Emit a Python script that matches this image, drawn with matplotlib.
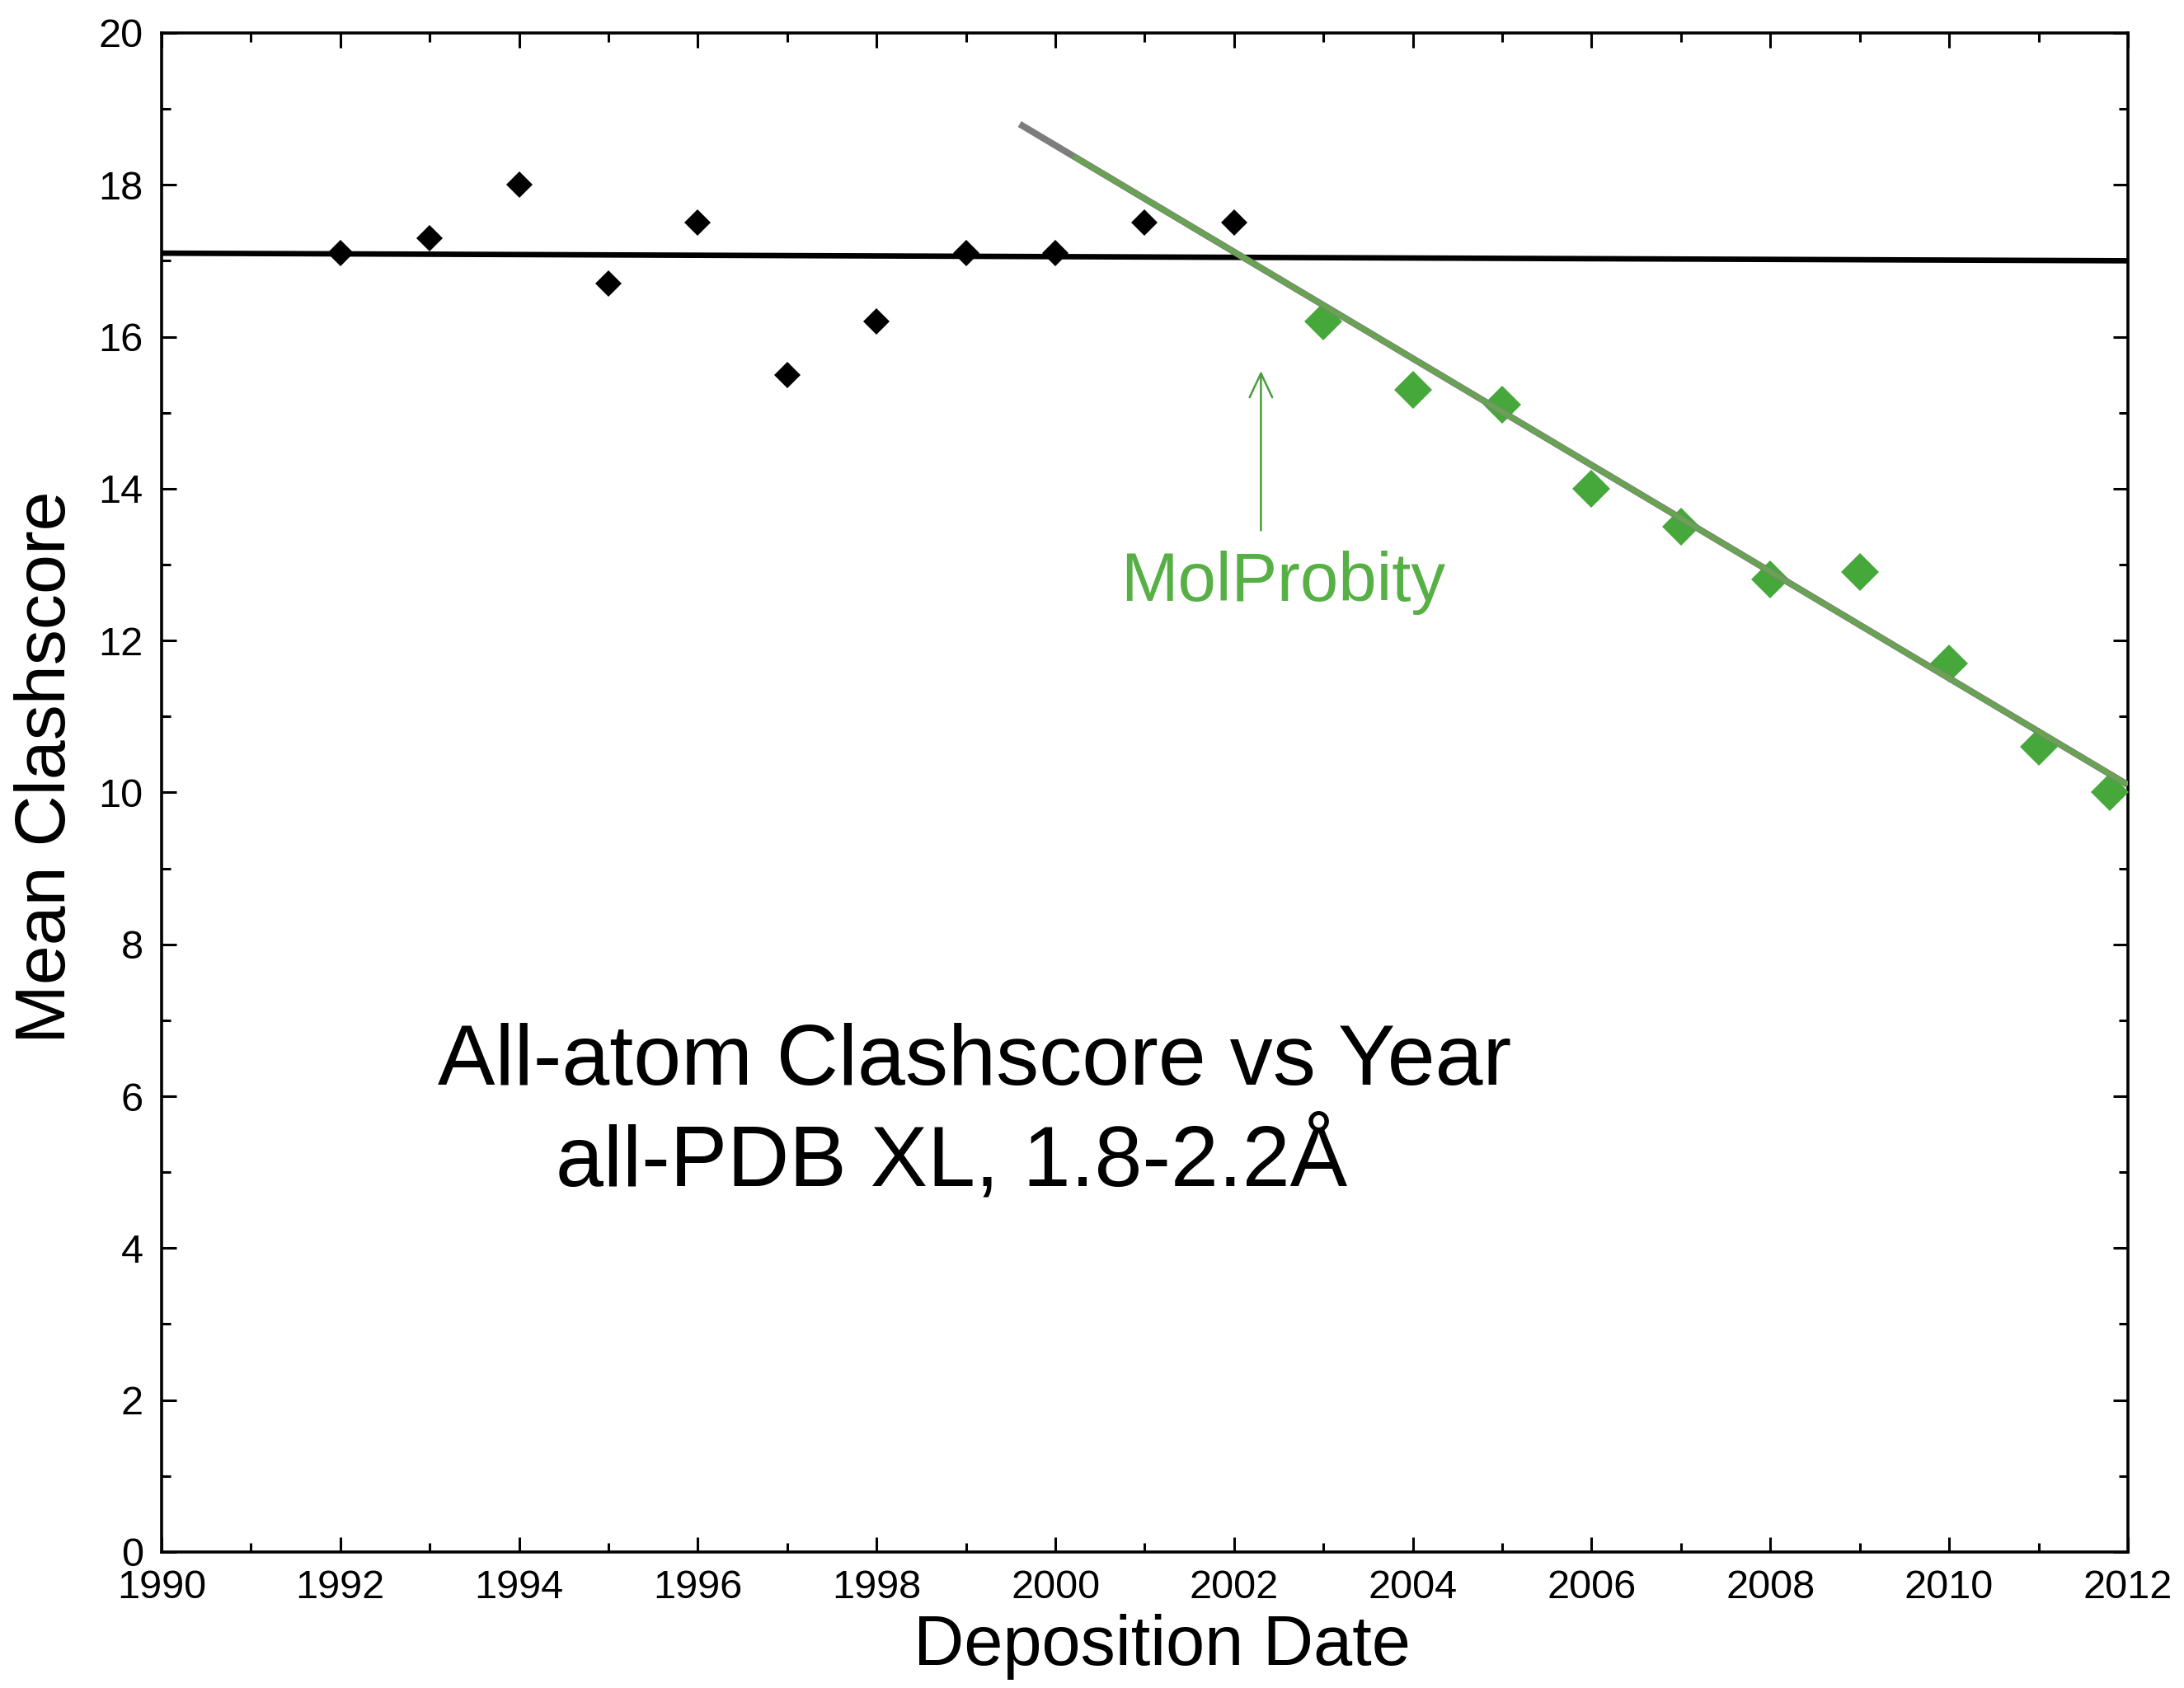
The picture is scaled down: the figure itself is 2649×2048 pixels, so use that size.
import numpy as np
import matplotlib
matplotlib.use("Agg")
import matplotlib.pyplot as plt
from matplotlib.ticker import MultipleLocator

plt.rcParams['font.family'] = ['Liberation Sans', 'DejaVu Sans']

# Mean clashscore per deposition year, before and after MolProbity
years_pre = [1992, 1993, 1994, 1995, 1996, 1997, 1998, 1999, 2000, 2001, 2002]
clash_pre = [17.1, 17.3, 18.0, 16.7, 17.5, 15.5, 16.2, 17.1, 17.1, 17.5, 17.5]
years_post = [2003, 2004, 2005, 2006, 2007, 2008, 2009, 2010, 2011, 2011.8]
clash_post = [16.2, 15.3, 15.1, 14.0, 13.5, 12.8, 12.9, 11.7, 10.6, 10.0]

# Trend lines (end points)
flat_years = [1990, 2012]
flat_values = [17.1, 17.0]
trend_years = [1999.6, 2012]
trend_values = [18.8, 10.1]
trend_green_from = 2000.2

molprobity_year = 2002.3

fig = plt.figure(figsize=(26.49, 20.48), dpi=100)
ax = fig.add_axes([0.074, 0.0806, 0.9003, 0.8999])

ax.set_xlim(1990, 2012)
ax.set_ylim(0, 20)

black = "#000000"
green = "#46a83a"

# flat fit through the pre-MolProbity years
ax.plot(flat_years, flat_values, color=black, lw=4.8, zorder=2, solid_capstyle='butt')
ax.plot(years_pre, clash_pre, linestyle='none', marker='D', ms=16.5,
        color=black, markeredgewidth=0, zorder=3)

# green points and the declining trend line
ax.plot(years_post, clash_post, linestyle='none', marker='D', ms=23.5,
        color=green, markeredgewidth=0, zorder=3, clip_on=False)
ax.plot(trend_years, trend_values, color="#7d7d7d", lw=5.8, zorder=4,
        solid_capstyle='butt')
g_start = np.interp(trend_green_from, trend_years, trend_values)
ax.plot([trend_green_from, trend_years[1]], [g_start, trend_values[1]],
        color="#5db83a", lw=4.5, alpha=0.65, zorder=5, solid_capstyle='butt')

# MolProbity marker
ax.annotate("", xy=(molprobity_year, 15.55), xytext=(molprobity_year, 13.45),
            arrowprops=dict(arrowstyle="->, head_length=0.7, head_width=0.33",
                            color="#4c9c3c", lw=1.8, mutation_scale=30,
                            shrinkA=0, shrinkB=0))
ax.text(2002.55, 12.52, "MolProbity", color="#56b045", fontsize=60,
        ha='center', va='baseline')

# chart caption inside the plot
ax.text(1999.1, 6.15, "All-atom Clashscore vs Year", fontsize=75,
        ha='center', va='baseline', color=black)
ax.text(1998.84, 4.82, "all-PDB XL, 1.8-2.2Å", fontsize=75,
        ha='center', va='baseline', color=black)

# axes styling
for s in ax.spines.values():
    s.set_linewidth(2.6)
ax.xaxis.set_major_locator(MultipleLocator(2))
ax.xaxis.set_minor_locator(MultipleLocator(1))
ax.yaxis.set_major_locator(MultipleLocator(2))
ax.yaxis.set_minor_locator(MultipleLocator(1))
ax.tick_params(which='both', direction='in', top=True, right=True, width=2.2)
ax.tick_params(which='major', length=13)
ax.tick_params(which='minor', length=8)
ax.tick_params(axis='x', which='major', labelsize=35, pad=15)
ax.tick_params(axis='y', which='major', labelsize=35, pad=16)

ax.set_xlabel("Deposition Date", fontsize=61)
ax.xaxis.set_label_coords(0.509, -0.041)
ax.text(-0.0583, 0.5166, "Mean Clashscore", fontsize=62, rotation=90,
        ha='center', va='center', transform=ax.transAxes)

fig.savefig("out.png", dpi=100, facecolor='white')
